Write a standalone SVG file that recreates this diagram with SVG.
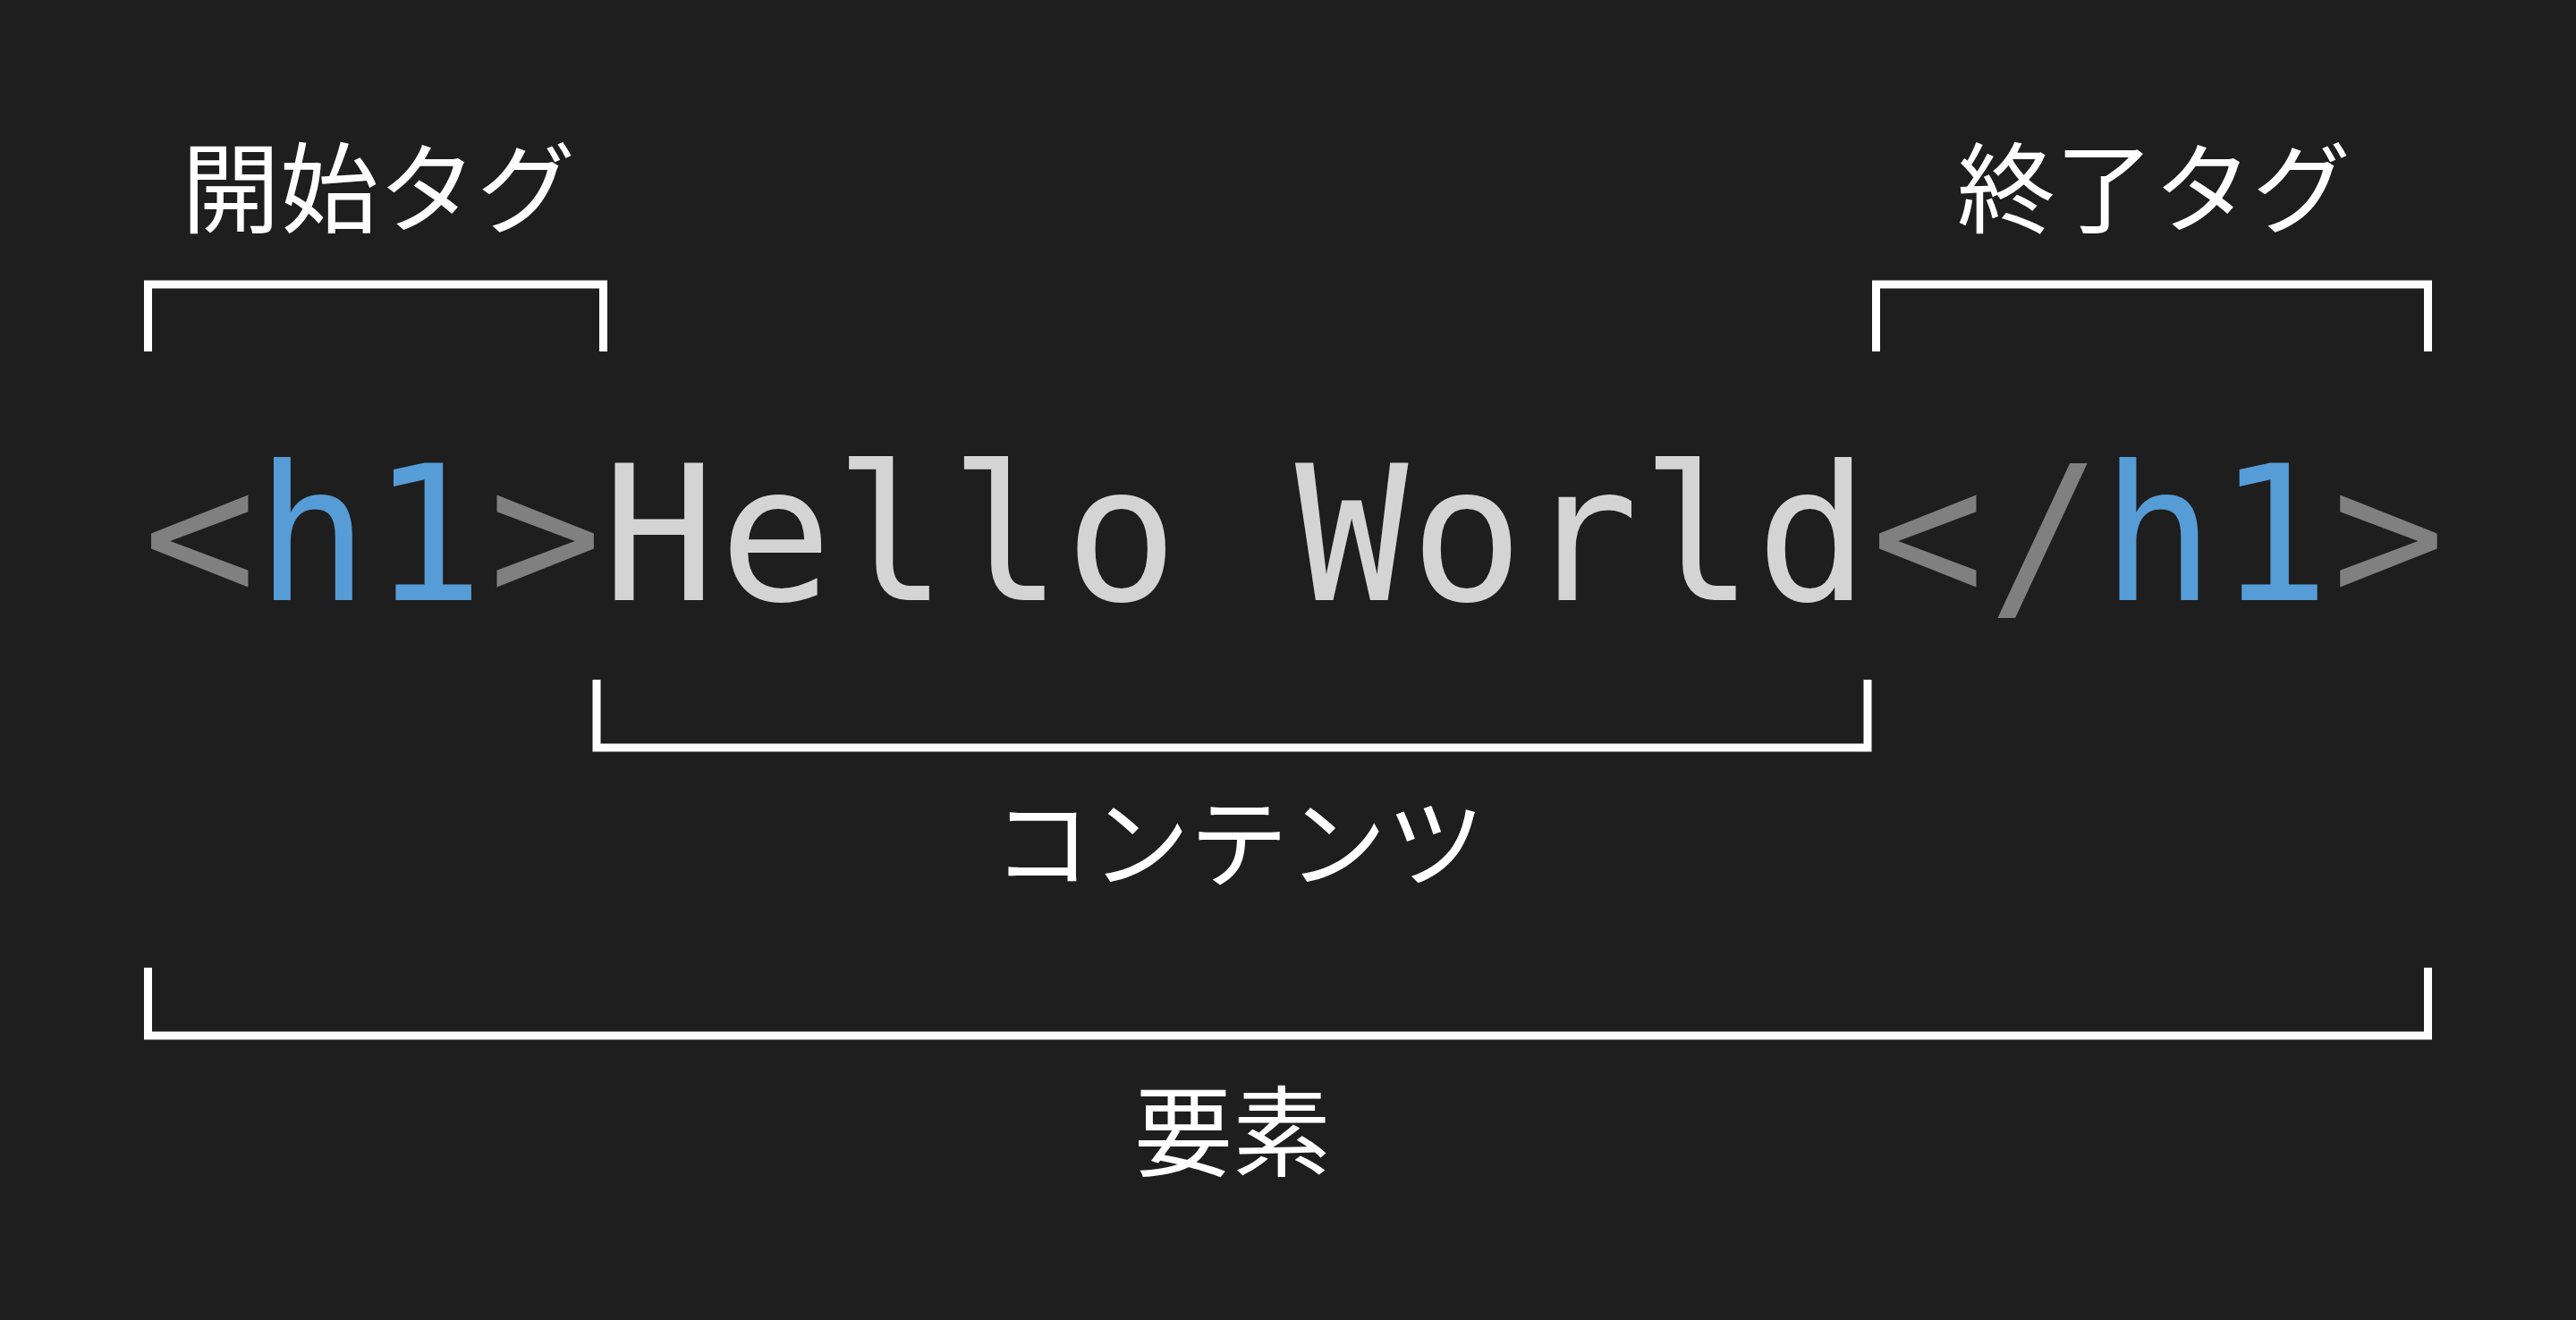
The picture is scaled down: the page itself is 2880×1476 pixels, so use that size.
<svg xmlns="http://www.w3.org/2000/svg" width="2880" height="1476" viewBox="0 0 2880 1476">
<style>
.bg{fill:#1e1e1e}
.br{fill:none;stroke:#ffffff;stroke-width:9;stroke-linecap:butt;stroke-linejoin:miter}
.lbl{font-family:"Noto Sans CJK JP","Noto Sans CJK SC",sans-serif;font-size:110px;fill:#ffffff;text-anchor:middle}
.code{font-family:"DejaVu Sans Mono","Liberation Mono",monospace;font-size:210px}
.p{fill:#808080}
.t{fill:#569cd6}
.c{fill:#d4d4d4}
</style>
<rect class="bg" x="0" y="0" width="2880" height="1476"/>
<g id="connectors">
<path class="br" d="M165.5 393 V318 H674.5 V393"/>
<path class="br" d="M2097.5 393 V318 H2714.5 V393"/>
<path class="br" d="M667 760 V836 H2088 V760"/>
<path class="br" d="M165.5 1082 V1158 H2714.5 V1082"/>
</g>
<g id="code">
<text class="code" y="671"><tspan class="p" x="160">&lt;</tspan><tspan class="t" x="286 414.8">h1</tspan><tspan class="p" x="546.4">&gt;</tspan><tspan class="c" x="673.5 804 932.8 1061.6 1190.4 1319.2 1448 1576.8 1705.6 1834.4 1963.2">Hello World</tspan><tspan class="p" x="2092 2223">&lt;/</tspan><tspan class="t" x="2349.6 2478.4">h1</tspan><tspan class="p" x="2607.2">&gt;</tspan></text>
</g>
<g id="start-tag-label"><text class="lbl" x="423" y="252">開始タグ</text></g>
<g id="end-tag-label"><text class="lbl" x="2408" y="252">終了タグ</text></g>
<g id="content-label"><text class="lbl" x="1385" y="984">コンテンツ</text></g>
<g id="element-label"><text class="lbl" x="1378" y="1307">要素</text></g>
</svg>
